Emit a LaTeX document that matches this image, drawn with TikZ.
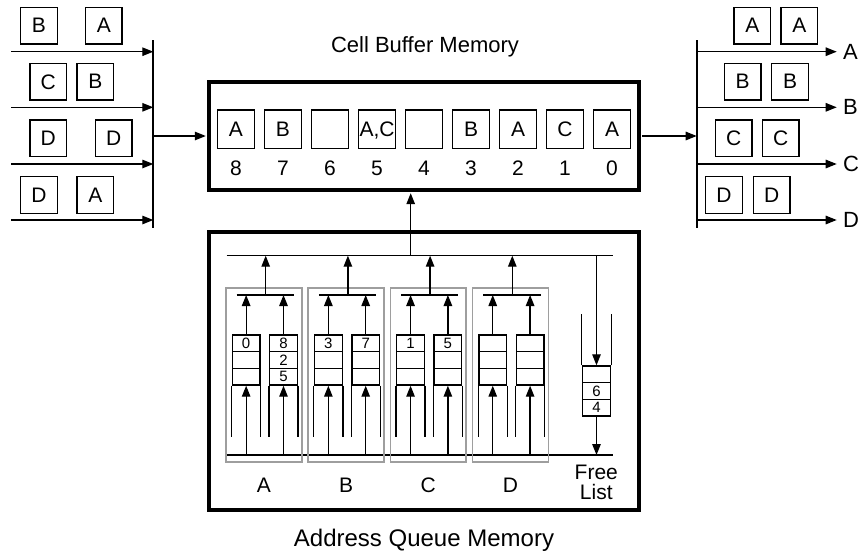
\documentclass[tikz,border=0pt]{standalone}
\usepackage{fontspec}
\setmainfont{Liberation Sans}
\usetikzlibrary{arrows.meta}
\begin{document}
\begin{tikzpicture}[x=1pt,y=-1pt,
  wire/.style={line width=1.3pt},
  arr/.style={wire,-{Triangle[length=11pt,width=8.5pt]}},
  bar/.style={line width=1.8pt},
  pkt/.style={draw,line width=1.3pt,minimum width=36.5pt,minimum height=36.5pt,
    inner sep=0pt,text depth=0pt,font=\fontsize{21}{25}\selectfont},
  bigbox/.style={draw,line width=3.2pt,inner sep=0pt},
  grp/.style={draw=black!38,line width=1.6pt,inner sep=0pt},
  qcell/.style={draw,line width=1.4pt,minimum width=27.7pt,minimum height=16.67pt,inner sep=0pt},
  lbl/.style={font=\fontsize{21}{25}\selectfont,inner sep=0pt,text depth=0pt},
  qd/.style={font=\fontsize{15}{17}\selectfont,inner sep=0pt},
]
\useasboundingbox (0,0) rectangle (862,555);

% ---------- Cell buffer memory ----------
\node[bigbox,minimum width=430pt,minimum height=108pt] (cbm) at (424,136) {};
\node[font=\fontsize{22}{26}\selectfont,inner sep=0pt] (cbmtitle) at (425,47) {Cell Buffer Memory};
\foreach \t/\n [count=\k from 0] in {A/8,B/7,{}/6,{A,C}/5,{}/4,B/3,A/2,C/1,A/0} {
  \node[pkt,minimum width=37.5pt,minimum height=38.3pt] (cell\n) at (236+47*\k,129.2) {\t};
  \node[lbl] (num\n) at (236+47*\k,168) {\n};
}

% ---------- Input ports ----------
\coordinate (inTop) at (153.3,40);
\coordinate (inBot) at (153.3,228);
\draw[bar] (inTop) -- (inBot);
\foreach \y [count=\r] in {51.7,107.3,164,220} {
  \coordinate (inS\r) at (11,\y);
  \draw[arr] (inS\r) -- (inS\r -| inTop);
}
\node[pkt] (i1a) at (39,25.7) {B};
\node[pkt] (i1b) at (103.8,25.7) {A};
\node[pkt] (i2a) at (48.3,81.7) {C};
\node[pkt] (i2b) at (95.3,81.7) {B};
\node[pkt] (i3a) at (48.3,138.3) {D};
\node[pkt] (i3b) at (113.8,138.3) {D};
\node[pkt] (i4a) at (39,195) {D};
\node[pkt] (i4b) at (95.3,195) {A};
\draw[arr,shorten >=1.6pt] (inTop |- cbm.west) -- (cbm.west);

% ---------- Output ports ----------
\coordinate (outTop) at (696.7,40);
\coordinate (outBot) at (696.7,228);
\draw[bar] (outTop) -- (outBot);
\draw[arr] ([xshift=1.6pt]cbm.east) -- (cbm.east -| outTop);
\foreach \y/\p in {51.7/A,107.3/B,164/C,220/D} {
  \node[lbl,anchor=west,font=\fontsize{22}{26}\selectfont] (out\p) at (843,\y) {\p};
  \draw[arr] (outTop |- out\p.west) -- ([xshift=-6.3pt]out\p.west);
}
\node[pkt] (o1a) at (752.3,25.7) {A};
\node[pkt] (o1b) at (799.3,25.7) {A};
\node[pkt] (o2a) at (742.7,81.7) {B};
\node[pkt] (o2b) at (790,81.7) {B};
\node[pkt] (o3a) at (733.8,138.3) {C};
\node[pkt] (o3b) at (780.7,138.3) {C};
\node[pkt] (o4a) at (724,195) {D};
\node[pkt] (o4b) at (771.7,195) {D};

% ---------- Address queue memory ----------
\node[bigbox,minimum width=430pt,minimum height=278pt] (aqm) at (424,371) {};
\node[font=\fontsize{24}{28}\selectfont,inner sep=0pt] (aqmtitle) at (424,540) {Address Queue Memory};

\coordinate (tbL) at (226.7,255.7);
\coordinate (tbR) at (613.3,255.7);
\coordinate (bbL) at (226.7,455);
\coordinate (bbR) at (613.3,455);
\draw[wire] (tbL) -- (tbR);
\draw[wire] (bbL) -- (bbR);
\coordinate (rd) at (410.7,255.7);
\draw[arr,shorten >=1.6pt] (rd) -- (rd |- cbm.south);

\foreach \g [count=\i from 0] in {A,B,C,D} {
  \pgfmathsetmacro{\L}{226+82.2*\i}
  \node[grp,minimum width=75.7pt,minimum height=174pt] (grp\g) at (\L+37.85,374.7) {};
  \node[lbl] (glab\g) at (\L+37.85,485) {\g};
  % merge bus of the group and its output to the top bus
  \coordinate (sb\g L) at (\L+10.7,295);
  \coordinate (sb\g R) at (\L+68,295);
  \coordinate (sb\g M) at (\L+39.7,295);
  \draw[wire] (sb\g L) -- (sb\g R);
  \draw[arr] (sb\g M) -- (sb\g M |- tbL);
  \foreach \q/\dx in {1/20.15,2/57.5} {
    \foreach \r in {1,2,3} {
      \node[qcell] (q\g\q\r) at (\L+\dx,326.67+16.67*\r) {};
    }
    \draw[wire] (q\g\q3.south west) -- ++(0,51.7);
    \draw[wire] (q\g\q3.south east) -- ++(0,51.7);
    \draw[arr] (q\g\q1.north) -- (q\g\q1.north |- sb\g L);
    \draw[arr] (q\g\q3.south |- bbL) -- (q\g\q3.south);
  }
}

% queue contents
\node[qd] at (qA11) {0};
\node[qd] at (qA21) {8};
\node[qd] at (qA22) {2};
\node[qd] at (qA23) {5};
\node[qd] at (qB11) {3};
\node[qd] at (qB21) {7};
\node[qd] at (qC11) {1};
\node[qd] at (qC21) {5};

% free list
\foreach \r/\v in {1/{},2/6,3/4} {
  \node[qcell,minimum width=28.4pt,minimum height=16.6pt] (fl\r) at (596.5,357.7+16.6*\r) {};
  \node[qd] (flv\r) at (fl\r) {\v};
}
\draw[wire] (fl1.north west) -- ++(0,-51);
\draw[wire] (fl1.north east) -- ++(0,-51);
\draw[arr] (fl1.north |- tbL) -- (fl1.north);
\draw[arr] (fl3.south) -- (fl3.south |- bbL);
\node[lbl,align=center,font=\fontsize{21}{20.5}\selectfont] (freelab) at (596.3,482.3) {Free\\List};
\end{tikzpicture}
\end{document}
